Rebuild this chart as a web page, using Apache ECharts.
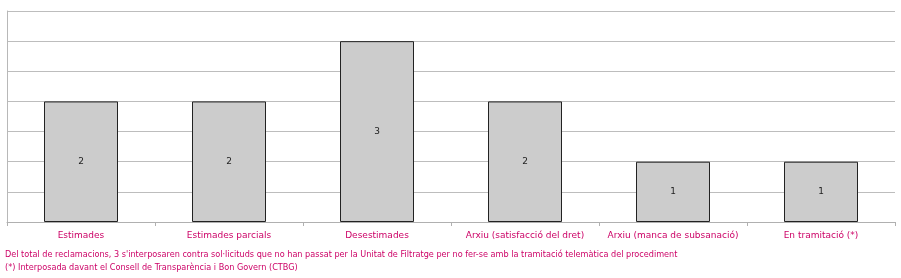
<!DOCTYPE html>
<html><head><meta charset="utf-8">
<script src="https://cdn.jsdelivr.net/npm/echarts@6/dist/echarts.min.js"></script>
<style>html,body{margin:0;padding:0;background:#fff}#c{width:901px;height:278px}</style>
</head><body><div id="c"></div>
<script>
const categories = ["Estimades", "Estimades parcials", "Desestimades", "Arxiu (satisfacció del dret)", "Arxiu (manca de subsanació)", "En tramitació (*)"];
const values = [2, 2, 3, 2, 1, 1];
const yTicks = [0, 0.5, 1, 1.5, 2, 2.5, 3, 3.5];
const notes = [
  "Del total de reclamacions, 3 s'interposaren contra sol·licituds que no han passat per la Unitat de Filtratge per no fer-se amb la tramitació telemàtica del procediment",
  "(*) Interposada davant el Consell de Transparència i Bon Govern (CTBG)"
];
const chart = echarts.init(document.getElementById('c'), null, {renderer: 'canvas'});
const font = 'Verdana, "DejaVu Sans", sans-serif';
chart.setOption({
  animation: false,
  grid: {left: 7, right: 6, top: 11, bottom: 56, containLabel: false},
  xAxis: {
    type: 'category', data: categories,
    axisLine: {lineStyle: {color: '#b0b0b0', width: 1}},
    axisTick: {show: true, length: 4, lineStyle: {color: '#b0b0b0'}},
    axisLabel: {color: '#cc0066', fontSize: 9, fontFamily: font, margin: 9, interval: 0}
  },
  yAxis: {
    type: 'value', min: yTicks[0], max: yTicks[yTicks.length - 1], interval: 0.5,
    axisLine: {show: true, lineStyle: {color: '#b8b8b8'}},
    axisTick: {show: false},
    axisLabel: {show: false},
    splitLine: {lineStyle: {color: '#bdbdbd', width: 1}}
  },
  series: [{
    type: 'bar', data: values, barWidth: '50%',
    itemStyle: {color: '#cccccc', borderColor: '#222', borderWidth: 1},
    label: {show: true, position: 'inside', color: '#222', fontSize: 9, fontFamily: font}
  }],
  graphic: notes.map((t, i) => ({
    type: 'text', left: 5, top: 251 + i * 13,
    style: {text: t, fill: '#cc0066', font: '8.15px ' + font}
  }))
});
</script></body></html>
